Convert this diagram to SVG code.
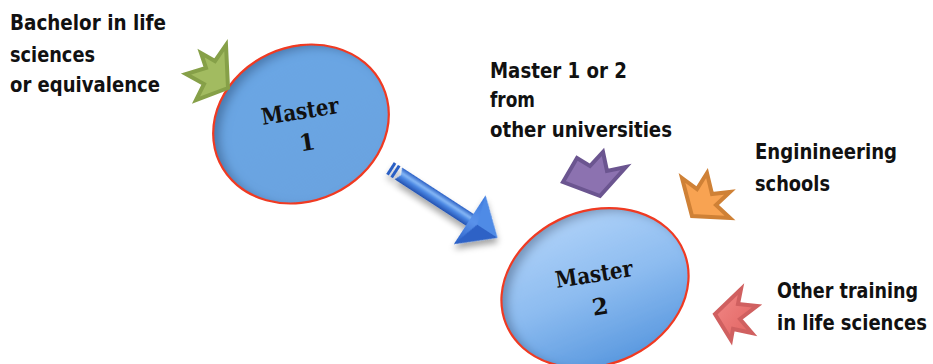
<svg xmlns="http://www.w3.org/2000/svg" width="933" height="364" viewBox="0 0 933 364">
<defs>
<style>
.lbl{font-family:"DejaVu Sans","Liberation Sans",sans-serif;font-weight:bold;font-size:21px;fill:#111}
.ms{font-family:"DejaVu Serif","Liberation Serif",serif;font-weight:bold;font-size:23px;fill:#111;text-anchor:middle}
.rim{fill:none;stroke:#f03a22;stroke-width:2.2}
.star{stroke-width:4;stroke-linejoin:miter}
</style>
<filter id="inner" x="-10%" y="-10%" width="120%" height="120%">
<feComponentTransfer in="SourceAlpha"><feFuncA type="table" tableValues="1 0"/></feComponentTransfer>
<feGaussianBlur stdDeviation="5"/>
<feOffset dx="5" dy="6" result="ob"/>
<feFlood flood-color="#1c3a66" flood-opacity="0.55"/>
<feComposite in2="ob" operator="in"/>
<feComposite in2="SourceAlpha" operator="in" result="sh"/>
<feMerge><feMergeNode in="SourceGraphic"/><feMergeNode in="sh"/></feMerge>
</filter>
<filter id="drop" x="-20%" y="-20%" width="150%" height="150%">
<feDropShadow dx="3" dy="4" stdDeviation="3" flood-color="#000" flood-opacity="0.35"/>
</filter>
<linearGradient id="g1" x1="0" y1="0" x2="0" y2="1">
<stop offset="0" stop-color="#6aa6e4"/><stop offset="1" stop-color="#6aa3e0"/>
</linearGradient>
<linearGradient id="g2" x1="0" y1="0" x2="0" y2="1">
<stop offset="0" stop-color="#aed1f8"/><stop offset="0.5" stop-color="#8dbcf0"/><stop offset="1" stop-color="#5c9ae0"/>
</linearGradient>
<linearGradient id="shaft" x1="0" y1="-7" x2="0" y2="7" gradientUnits="userSpaceOnUse">
<stop offset="0" stop-color="#2a5fc4"/><stop offset="0.35" stop-color="#86b8f6"/><stop offset="0.6" stop-color="#4a86e2"/><stop offset="1" stop-color="#2451b0"/>
</linearGradient>
<linearGradient id="head" x1="0" y1="-29" x2="0" y2="29" gradientUnits="userSpaceOnUse">
<stop offset="0" stop-color="#3c78dc"/><stop offset="0.5" stop-color="#5a92ea"/><stop offset="1" stop-color="#2a60c8"/>
</linearGradient>
<linearGradient id="redg" x1="0" y1="0" x2="1" y2="1">
<stop offset="0" stop-color="#f28a88"/><stop offset="1" stop-color="#e0605e"/>
</linearGradient>
</defs>

<g id="master1">
<ellipse cx="301" cy="124" rx="90" ry="77" transform="rotate(-25 301 124)" fill="url(#g1)" filter="url(#inner)"/>
<ellipse class="rim" cx="301" cy="124" rx="90" ry="77" transform="rotate(-25 301 124)"/>
<g transform="rotate(-9 301 117)">
<text class="ms" x="301" y="119" textLength="78" lengthAdjust="spacingAndGlyphs">Master</text>
<text class="ms" x="303" y="151">1</text>
</g>
</g>

<g id="master2">
<ellipse cx="595" cy="288" rx="96" ry="77" transform="rotate(-22 595 288)" fill="url(#g2)" filter="url(#inner)"/>
<ellipse class="rim" cx="595" cy="288" rx="96" ry="77" transform="rotate(-22 595 288)"/>
<g transform="rotate(-9 595 280)">
<text class="ms" x="595" y="282" textLength="78" lengthAdjust="spacingAndGlyphs">Master</text>
<text class="ms" x="596" y="315">2</text>
</g>
</g>

<g id="label-bachelor">
<text class="lbl" x="10" y="30" textLength="156" lengthAdjust="spacingAndGlyphs">Bachelor in life</text>
<text class="lbl" x="10" y="62" textLength="85" lengthAdjust="spacingAndGlyphs">sciences</text>
<text class="lbl" x="10" y="92" textLength="150" lengthAdjust="spacingAndGlyphs">or equivalence</text>
</g>

<g id="label-universities">
<text class="lbl" x="490" y="78" textLength="137" lengthAdjust="spacingAndGlyphs">Master 1 or 2</text>
<text class="lbl" x="490" y="107" textLength="45" lengthAdjust="spacingAndGlyphs">from</text>
<text class="lbl" x="490" y="137" textLength="182" lengthAdjust="spacingAndGlyphs">other universities</text>
</g>

<g id="label-engineering">
<text class="lbl" x="755" y="159" textLength="142" lengthAdjust="spacingAndGlyphs">Enginineering</text>
<text class="lbl" x="755" y="191" textLength="75" lengthAdjust="spacingAndGlyphs">schools</text>
</g>

<g id="label-training">
<text class="lbl" transform="translate(777 298) scale(0.84 1)" x="0" y="0" textLength="168" lengthAdjust="spacingAndGlyphs">Other training</text>
<text class="lbl" transform="translate(777 330) scale(0.857 1)" x="0" y="0" textLength="175" lengthAdjust="spacingAndGlyphs">in life sciences</text>
</g>

<g id="connectors">
<g id="arrow-m1-m2" filter="url(#drop)" transform="translate(390 168) rotate(33)">
<rect x="0" y="-7" width="3" height="14" fill="#2a5fc4"/>
<rect x="5" y="-7" width="3" height="14" fill="#2a5fc4"/>
<polygon points="10,-7 96,-7 96,7 10,7 13,0" fill="url(#shaft)"/>
<polygon points="95,-29 128,0 95,29" fill="url(#head)"/>
<polygon points="95,-29 128,0 104,0" fill="#4f8be6"/>
<polygon points="95,29 128,0 104,0" fill="#2d62c6"/>
</g>
<polygon class="star" points="226,45 228,88 196,100 204,84 186,74 206,68 201,53 215,61" fill="#a2bb60" stroke="#86a048"/>
<polygon class="star" points="563,182 577,158 590,166 603,152 607,171 626,167 600,196" fill="#8c72b0" stroke="#6b5590"/>
<polygon class="star" points="682,178 697,189 707,173 712,194 730,192 716,205 730,218 692,216" fill="#f8a352" stroke="#cf8136"/>
<polygon class="star" points="741,289 738,304 757,306 740,319 752,333 733,329 731,340 715,314" fill="url(#redg)" stroke="#d06060" stroke-width="1.5"/>
</g>
</svg>
